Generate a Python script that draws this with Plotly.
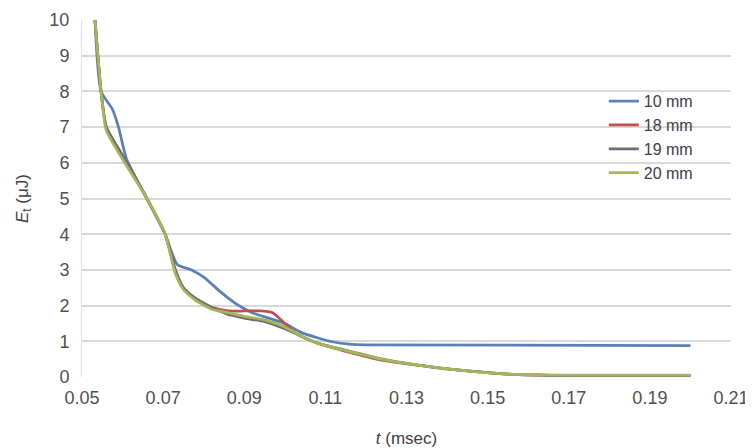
import plotly.graph_objects as go

# Data
t_10 = [0.0532, 0.0547, 0.0575, 0.0590, 0.0610, 0.0660, 0.0705, 0.0735, 0.0770, 0.0800,
        0.0840, 0.0880, 0.0920, 0.0960, 0.1000, 0.1040, 0.1080, 0.1120, 0.1160, 0.1200, 0.2000]
e_10 = [10, 8, 7.5, 7.0, 6.1, 5.0, 4.0, 3.15, 3.0, 2.8,
        2.4, 2.05, 1.8, 1.65, 1.5, 1.25, 1.1, 0.98, 0.92, 0.9, 0.88]

t_18 = [0.0532, 0.0547, 0.0560, 0.0600, 0.0660, 0.0705, 0.0730, 0.0750, 0.0780, 0.0820,
        0.0860, 0.0900, 0.0940, 0.0970, 0.1000, 0.1030, 0.1080, 0.1150, 0.1250, 0.1350,
        0.1450, 0.1550, 0.1700, 0.2000]
e_18 = [10, 8, 7, 6.2, 5.0, 4.0, 3.0, 2.5, 2.2, 1.95,
        1.85, 1.85, 1.85, 1.8, 1.5, 1.2, 0.95, 0.72, 0.45, 0.3,
        0.17, 0.08, 0.04, 0.04]

t_19 = [0.0532, 0.0547, 0.0560, 0.0600, 0.0660, 0.0705, 0.0730, 0.0750, 0.0780, 0.0820,
        0.0860, 0.0900, 0.0950, 0.1000, 0.1040, 0.1080, 0.1150, 0.1250, 0.1350, 0.1450,
        0.1550, 0.1700, 0.2000]
e_19 = [10, 8, 7, 6.2, 5.0, 4.0, 3.0, 2.5, 2.2, 1.95,
        1.75, 1.65, 1.55, 1.35, 1.15, 0.95, 0.75, 0.48, 0.3, 0.17,
        0.08, 0.04, 0.04]

t_20 = t_19
e_20 = [10, 8, 6.9, 6.1, 5.0, 4.0, 2.9, 2.45, 2.15, 1.9,
        1.8, 1.7, 1.6, 1.4, 1.15, 0.95, 0.74, 0.47, 0.3, 0.17,
        0.08, 0.05, 0.05]

series_names = ["10 mm", "18 mm", "19 mm", "20 mm"]
series_t = [t_10, t_18, t_19, t_20]
series_e = [e_10, e_18, e_19, e_20]
colors = ["#5b80b8", "#c0504d", "#716a7c", "#a3b75a"]

x_ticks = [0.05, 0.07, 0.09, 0.11, 0.13, 0.15, 0.17, 0.19, 0.21]
y_ticks = list(range(0, 11))

fig = go.Figure()
for name, t, e, c in zip(series_names, series_t, series_e, colors):
    fig.add_trace(go.Scatter(x=t, y=e, mode="lines", name=name,
                             line=dict(color=c, width=2.75, shape="spline", smoothing=0.6)))

font_family = "Liberation Sans, Arial, sans-serif"
fig.update_layout(
    width=745, height=440,
    margin=dict(l=74, r=22, t=12, b=71, autoexpand=False),
    paper_bgcolor="white", plot_bgcolor="white",
    font=dict(family=font_family, size=18, color="#404040"),
    legend=dict(x=0.804, y=0.82, xanchor="left", yanchor="top",
                font=dict(size=16, color="#404040"), bgcolor="rgba(0,0,0,0)",
                tracegroupgap=0),
    xaxis=dict(range=[0.05, 0.21], tickvals=x_ticks, automargin=False,
               ticktext=[f"{v:.2f}" for v in x_ticks],
               showgrid=False, zeroline=False, showline=False,
               ticks="outside", ticklen=4, tickcolor="rgba(0,0,0,0)",
               tickfont=dict(size=18, color="#505050"),
               title=dict(text="<i>t</i> (msec)", font=dict(size=17, color="#404040"), standoff=26)),
    yaxis=dict(range=[0, 10], tickvals=y_ticks, automargin=False,
               showgrid=True, gridcolor="#d9d9d9", gridwidth=2,
               zeroline=False, showline=True, linecolor="#e0e0e0", linewidth=1,
               ticks="outside", ticklen=8, tickcolor="rgba(0,0,0,0)",
               tickfont=dict(size=18, color="#505050"),
               title=dict(text="<i>E</i><sub>t</sub> (μJ)", font=dict(size=17, color="#404040"), standoff=16)),
)

fig.write_html("out.html")
